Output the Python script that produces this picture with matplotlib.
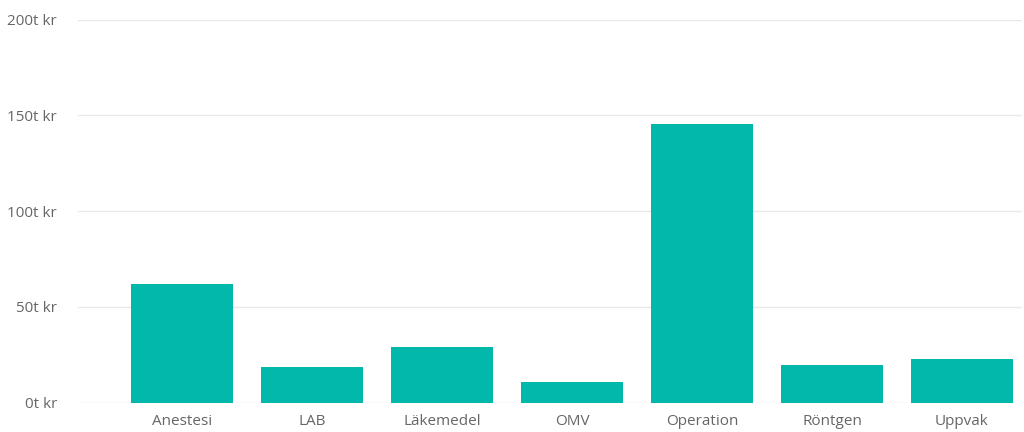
import matplotlib
matplotlib.use("Agg")
import matplotlib.pyplot as plt
from matplotlib.ticker import FuncFormatter

categories = ["Anestesi", "LAB", "Läkemedel", "OMV", "Operation", "Röntgen", "Uppvak"]
values = [62.0, 18.8, 29.1, 11.0, 145.4, 19.7, 22.8]  # thousands kr
y_ticks = [0, 50, 100, 150, 200]

plt.rcParams['font.family'] = ['Open Sans', 'DejaVu Sans']

fig = plt.figure(figsize=(10.24, 4.32), dpi=100)
ax = fig.add_axes([78/1024, 29.3/432, (1022-78)/1024, 383/432])

x = list(range(len(categories)))
ax.bar(x, values, width=0.785, color="#01B8AA", zorder=3)

ax.set_ylim(0, 200)
ax.set_xlim((78-182)/130, (1022-182)/130)
ax.set_yticks(y_ticks)
ax.yaxis.set_major_formatter(FuncFormatter(lambda v, p: f"{int(v)}t kr"))
ax.set_xticks(x)
ax.set_xticklabels(categories)

ax.grid(axis="y", color="#e9e9e9", linewidth=1, zorder=0)
for s in ax.spines.values():
    s.set_visible(False)
ax.tick_params(axis="both", length=0, colors="#666666")
ax.tick_params(axis="y", labelsize=11, pad=15)
ax.tick_params(axis="x", labelsize=11, pad=8)

fig.savefig("out.png", dpi=100, facecolor="white")
